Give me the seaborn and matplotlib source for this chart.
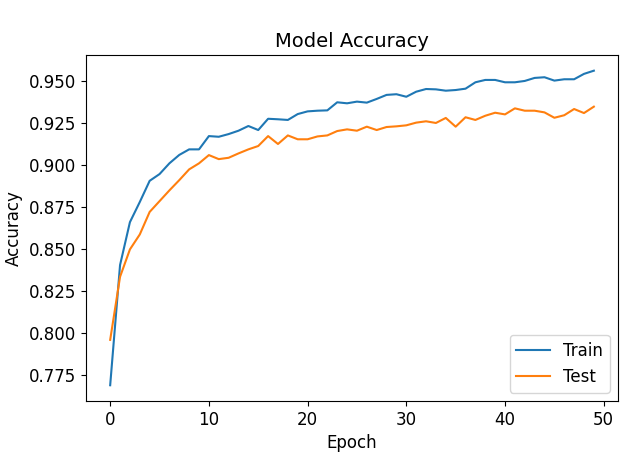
import matplotlib
matplotlib.use('Agg')
import matplotlib.pyplot as plt
import numpy as np
import pandas as pd
import seaborn as sns

# accuracy per epoch
train_acc = [0.769, 0.8405, 0.866, 0.878, 0.8906, 0.8946, 0.901, 0.906, 0.9093, 0.9093,
             0.9172, 0.9168, 0.9184, 0.9204, 0.9232, 0.9208, 0.9275, 0.9272, 0.9268, 0.9303,
             0.9319, 0.9323, 0.9325, 0.9373, 0.9367, 0.9377, 0.9371, 0.9393, 0.9417, 0.9421,
             0.9406, 0.9436, 0.9452, 0.945, 0.9442, 0.9446, 0.9454, 0.9492, 0.9506, 0.9506,
             0.9492, 0.9492, 0.950, 0.9518, 0.9522, 0.9502, 0.951, 0.951, 0.9542, 0.9561]
test_acc = [0.796, 0.8335, 0.8498, 0.8587, 0.8721, 0.8785, 0.8849, 0.891, 0.8974, 0.901,
            0.9059, 0.9035, 0.9043, 0.9069, 0.9093, 0.9113, 0.9172, 0.9125, 0.9176, 0.9153,
            0.9153, 0.917, 0.9176, 0.9202, 0.9212, 0.9204, 0.9228, 0.9208, 0.9226, 0.923,
            0.9236, 0.9252, 0.926, 0.925, 0.928, 0.9228, 0.9284, 0.9268, 0.9293, 0.9311,
            0.9301, 0.9337, 0.9323, 0.9323, 0.9313, 0.9281, 0.9296, 0.9333, 0.9309, 0.9347]
epochs = np.arange(len(train_acc))

history = pd.DataFrame({'epoch': epochs, 'train': train_acc, 'test': test_acc})

plt.rcParams['font.size'] = 12

fig = plt.figure(figsize=(6.3, 4.58), dpi=100)
ax = fig.add_axes([0.1365, 0.1245, 0.8445, 0.7555])

sns.lineplot(data=history, x='epoch', y='train', label='Train', color='#1f77b4', ax=ax)
sns.lineplot(data=history, x='epoch', y='test', label='Test', color='#ff7f0e', ax=ax)

ax.set_title('Model Accuracy', fontsize=14)
ax.set_xlabel('Epoch')
ax.set_ylabel('Accuracy')
ax.legend(loc='lower right')

fig.savefig('out.png', dpi=100)
